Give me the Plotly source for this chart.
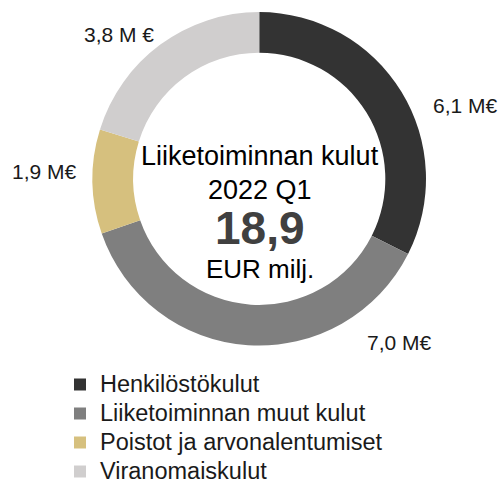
import plotly.graph_objects as go

categories = ["Henkilöstökulut", "Liiketoiminnan muut kulut", "Poistot ja arvonalentumiset", "Viranomaiskulut"]
values = [6.1, 7.0, 1.9, 3.8]
value_labels = ["6,1 M€", "7,0 M€", "1,9 M€", "3,8 M €"]
colors = ["#333333", "#7f7f7f", "#d6c07e", "#d0cece"]
center_title = ["Liiketoiminnan kulut", "2022 Q1"]
total_label = "18,9"
unit_label = "EUR milj."

W, H = 502, 488
FONT = "Liberation Sans, Arial, sans-serif"

fig = go.Figure(go.Pie(
    labels=['<span style="font-size:23.5px">' + c + "</span>" for c in categories],
    values=values,
    marker=dict(colors=colors, line=dict(width=0)),
    hole=0.756,
    sort=False,
    direction="clockwise",
    rotation=0,
    textinfo="none",
    hoverinfo="value",
    domain=dict(x=[92.5 / W, 426 / W], y=[1 - 346 / H, 1 - 11.7 / H]),
))

def px(x, y):
    return x / W, 1 - y / H

ann = []
label_pos = [(465, 105), (399, 342), (44, 171), (119, 34)]
for t, (x, y) in zip(value_labels, label_pos):
    ax, ay = px(x, y)
    ann.append(dict(text=t, x=ax, y=ay, xref="paper", yref="paper", showarrow=False,
                    font=dict(family=FONT, size=21, color="#1a1a1a"), xanchor="center", yanchor="middle"))

cx = 259.5
for t, y in zip(center_title, [156, 190]):
    ax, ay = px(cx, y)
    ann.append(dict(text=t, x=ax, y=ay, xref="paper", yref="paper", showarrow=False,
                    font=dict(family=FONT, size=27, color="#000000"), xanchor="center", yanchor="middle"))
ax, ay = px(cx, 228)
ann.append(dict(text="<b>" + total_label + "</b>", x=ax, y=ay, xref="paper", yref="paper", showarrow=False,
                font=dict(family=FONT, size=46, color="#404040"), xanchor="center", yanchor="middle"))
ax, ay = px(cx, 269)
ann.append(dict(text=unit_label, x=ax, y=ay, xref="paper", yref="paper", showarrow=False,
                font=dict(family=FONT, size=26, color="#000000"), xanchor="center", yanchor="middle"))

fig.update_layout(
    width=W, height=H,
    margin=dict(l=0, r=0, t=0, b=0, autoexpand=False),
    paper_bgcolor="white",
    plot_bgcolor="white",
    font=dict(family=FONT),
    annotations=ann,
    showlegend=True,
    legend=dict(
        x=60 / W, y=-3 / H, xanchor="left", yanchor="bottom",
        font=dict(family=FONT, size=20, color="#1a1a1a"),
        bgcolor="rgba(0,0,0,0)", itemwidth=30, tracegroupgap=0,
    ),
)

fig.write_html("out.html", config={"displayModeBar": False},
               post_script="document.body.style.margin='0';document.body.style.padding='0';")
